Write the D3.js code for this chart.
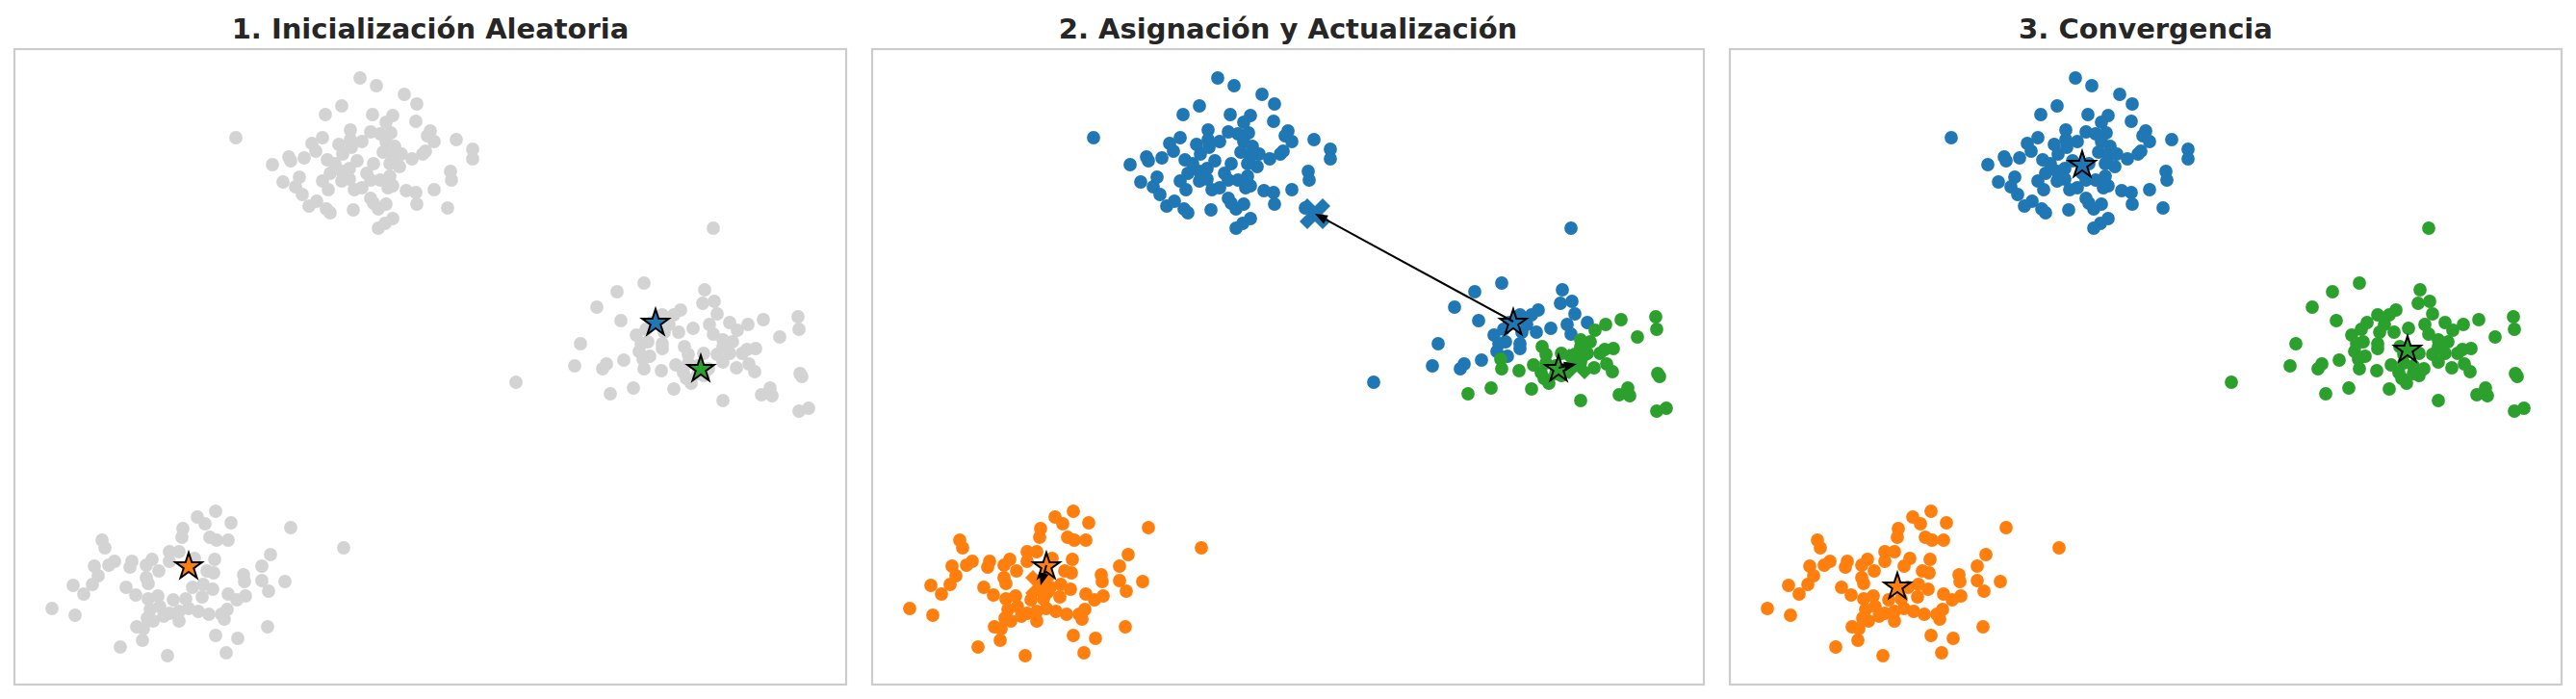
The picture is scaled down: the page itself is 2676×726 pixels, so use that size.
<!DOCTYPE html>
<html>
<head>
<meta charset="utf-8">
<script src="https://cdn.jsdelivr.net/npm/d3@7"></script>
<style>
  body { margin: 0; background: #fff; }
</style>
</head>
<body>
<div id="chart"></div>
<script>
const width = 2676;
const height = 726;

//-------data-------//
const titles = [
  "1. Inicialización Aleatoria",
  "2. Asignación y Actualización",
  "3. Convergencia",
];
const clusterNames = ["blue", "orange", "green"];
const clusterColors = ["#1f77b4", "#ff7f0e", "#2ca02c"];

const topBlob = [
  [35.9,62.7],[37.6,61.9],[40.5,61.0],[41.8,60.0],[34.0,59.8],[32.3,58.9],[37.2,58.9],[39.3,58.8],[41.7,58.2],[38.6,58.1],
  [23.0,56.5],[34.9,57.3],[37.0,57.1],[38.0,56.9],[39.1,57.0],[43.2,57.2],[42.9,56.7],[43.6,56.1],[45.9,56.3],[30.9,55.9],
  [32.0,56.5],[33.7,55.8],[34.9,56.3],[36.1,56.1],[38.6,56.1],[39.5,55.6],[47.6,55.3],[47.6,54.3],[26.8,53.7],[28.5,54.5],
  [28.7,54.1],[30.1,54.4],[31.3,55.1],[32.5,54.2],[34.1,54.8],[35.0,55.5],[38.3,55.0],[39.3,54.6],[40.2,54.8],[41.3,54.3],
  [42.4,54.8],[42.7,55.1],[40.0,53.5],[39.0,53.8],[45.3,53.0],[45.4,52.1],[27.9,51.9],[29.6,52.4],[29.2,51.4],[29.9,50.6],
  [32.0,52.0],[32.8,52.8],[34.0,53.0],[34.8,53.3],[34.8,52.2],[32.6,51.1],[36.1,51.3],[35.3,51.1],[38.0,52.1],[39.0,52.5],
  [39.3,51.5],[38.8,51.3],[40.7,51.0],[41.7,50.8],[43.6,51.1],[41.8,49.6],[30.6,49.4],[31.4,49.9],[32.4,49.1],[32.8,48.7],
  [35.2,49.0],[37.0,50.2],[37.3,49.7],[37.8,49.1],[38.6,49.6],[45.0,49.2],[39.3,48.1],[38.5,47.6],[37.8,47.1],[36.6,52.8],
  [35.6,54.1],[37.3,53.8],[33.3,53.8],[37.0,52.1],[34.0,52.0],
];

const rightBlob = [
  [72.6,47.1],[65.4,41.4],[62.6,40.5],[60.5,38.9],[63.0,37.5],[71.7,40.7],[71.5,39.3],[72.7,39.5],[73.0,38.2],[67.3,38.1],
  [69.2,38.6],[68.5,38.1],[66.2,37.3],[68.0,37.1],[70.5,36.7],[72.2,37.1],[72.6,36.1],[74.3,37.3],[75.1,36.5],[76.2,37.1],
  [77.8,37.6],[81.4,37.9],[81.5,36.6],[79.5,35.8],[64.6,36.0],[65.6,36.6],[67.5,36.3],[69.0,36.3],[58.8,35.1],[65.8,35.3],
  [67.3,35.1],[74.6,35.3],[73.6,35.5],[64.9,34.3],[66.0,33.8],[67.3,34.6],[69.6,34.8],[71.6,34.1],[73.0,34.0],[74.3,34.1],
  [75.6,34.1],[77.0,34.6],[76.1,34.5],[58.2,32.8],[61.5,33.0],[61.1,32.5],[63.3,33.4],[65.4,32.5],[67.2,32.3],[68.7,32.9],
  [70.0,33.1],[71.0,32.8],[72.1,32.5],[73.6,33.2],[75.0,32.6],[76.3,33.0],[76.9,32.2],[81.6,32.0],[81.8,31.7],[52.1,31.1],
  [64.3,30.5],[68.5,30.4],[69.8,31.5],[70.3,31.0],[71.6,31.8],[61.9,29.9],[73.6,29.2],[77.6,29.8],[78.5,30.5],[78.7,29.7],
  [81.5,28.1],[82.5,28.4],[70.0,34.0],[73.6,34.8],[69.5,32.1],[71.0,32.0],[65.1,35.1],[65.3,33.5],
];
// first assignment of the right blob (0 = blue, 2 = green)
const rightStep2 = [
  0,0,0,0,0,0,0,0,0,0, 0,0,0,0,0,0,0,0,2,2,
  2,2,2,2,0,0,0,0,0,0, 0,2,2,0,0,0,2,2,2,2,
  2,2,2,0,0,0,0,2,2,2, 2,2,2,2,2,2,2,2,2,0,
  2,2,2,2,2,2,2,2,2,2, 2,2,2,2,2,2,0,2,
];

const bottomBlob = [
  [20.9,17.7],[19.0,17.1],[19.8,16.4],[22.5,16.5],[28.7,16.0],[17.5,15.9],[17.4,15.0],[20.3,15.0],[21.0,14.7],[22.2,14.7],
  [9.1,14.7],[9.4,13.9],[34.2,13.9],[16.1,13.5],[17.1,13.5],[26.6,13.2],[18.7,12.8],[20.8,12.7],[14.3,12.7],[12.2,12.5],
  [10.4,12.5],[9.8,12.1],[8.3,12.0],[12.0,11.9],[13.7,12.1],[15.0,11.5],[16.1,12.5],[18.1,12.0],[20.0,11.5],[20.7,11.3],
  [25.7,12.0],[23.8,11.1],[23.9,10.4],[25.7,10.5],[28.1,10.4],[8.7,11.0],[8.1,10.1],[6.1,10.0],[7.2,9.1],[11.6,9.8],
  [12.6,9.0],[13.7,10.8],[13.9,10.2],[13.9,8.6],[14.9,8.9],[19.6,10.1],[20.6,9.6],[19.5,8.8],[22.2,9.1],[23.1,8.5],
  [24.0,8.9],[26.4,9.4],[3.9,7.6],[6.3,6.9],[14.1,7.5],[15.1,7.8],[16.1,7.1],[17.1,7.3],[18.1,7.6],[19.1,7.3],
  [20.2,7.0],[21.5,7.0],[22.1,7.5],[21.8,6.5],[14.4,6.3],[13.8,6.6],[17.1,6.3],[12.7,5.7],[13.4,5.5],[26.3,5.7],
  [20.9,4.8],[23.2,4.5],[13.3,4.3],[11.0,3.6],[15.9,2.7],[22.0,3.0],[17.8,8.6],[18.5,9.8],[16.5,8.5],[15.5,6.8],
];

// centroids: blue, orange, green
const initCentroids = [[66.6,37.4],[18.1,12.1],[71.3,32.6]];
const updatedCentroids = [[46.0,48.6],[17.5,10.0],[73.2,33.0]];
const finalCentroids = [[36.6,53.8],[17.4,10.0],[70.4,34.6]];

const xDomain = [0, 86.4];
const yDomain = [-0.3, 65.7];

//-------layout-------//
const panelW = 864;
const panelH = 660;
const gap = 27;
const marginLeft = 15;
const marginTop = 51;

const color = d3.scaleOrdinal().domain([0, 1, 2]).range(clusterColors);
const x = d3.scaleLinear().domain(xDomain).range([0, panelW]);
const y = d3.scaleLinear().domain(yDomain).range([panelH, 0]);

//-----clean data-------//
const points = [];
topBlob.forEach((p) => points.push({ x: p[0], y: p[1], step2: 0, final: 0 }));
rightBlob.forEach((p, i) =>
  points.push({ x: p[0], y: p[1], step2: rightStep2[i], final: 2 })
);
bottomBlob.forEach((p) => points.push({ x: p[0], y: p[1], step2: 1, final: 1 }));

const star = d3.symbol().type(d3.symbolStar).size(236);
// filled "X" marker, like matplotlib's 'X'
const xVerts = [
  [-0.25,-0.5],[0,-0.25],[0.25,-0.5],[0.5,-0.25],[0.25,0],[0.5,0.25],
  [0.25,0.5],[0,0.25],[-0.25,0.5],[-0.5,0.25],[-0.25,0],[-0.5,-0.25],
];
const xMarker = "M" + xVerts.map((v) => [v[0] * 32, v[1] * 32].join(",")).join("L") + "Z";

const svg = d3
  .select("#chart")
  .append("svg")
  .attr("width", width)
  .attr("height", height)
  .style("background", "#fff");

titles.forEach((title, i) => {
  const g = svg
    .append("g")
    .attr("transform", `translate(${marginLeft + i * (panelW + gap)},${marginTop})`);

  g.append("text")
    .attr("x", panelW / 2)
    .attr("y", -11)
    .attr("text-anchor", "middle")
    .attr("font-family", "DejaVu Sans")
    .attr("font-weight", "bold")
    .attr("font-size", 29)
    .attr("fill", "#262626")
    .text(title);

  //---points---//
  g.append("g")
    .selectAll("circle")
    .data(points)
    .join("circle")
    .attr("cx", (d) => x(d.x))
    .attr("cy", (d) => y(d.y))
    .attr("r", 6.9)
    .attr("fill", (d) =>
      i === 0 ? "#d3d3d3" : i === 1 ? color(d.step2) : color(d.final)
    );

  //---centroids---//
  const stars = i === 2 ? finalCentroids : initCentroids;

  if (i === 1) {
    g.append("g")
      .selectAll("path")
      .data(updatedCentroids)
      .join("path")
      .attr("d", xMarker)
      .attr("transform", (d) => `translate(${x(d[0])},${y(d[1])})`)
      .attr("fill", (d, k) => color(k));
  }

  g.append("g")
    .selectAll("path")
    .data(stars)
    .join("path")
    .attr("d", star)
    .attr("transform", (d) => `translate(${x(d[0])},${y(d[1]) + 1.5})`)
    .attr("fill", (d, k) => color(k))
    .attr("stroke", "#000")
    .attr("stroke-width", 2)
    .attr("stroke-linejoin", "miter");

  //---arrows old -> new---//
  if (i === 1) {
    const arrows = initCentroids.map((d, k) => ({
      x0: x(d[0]), y0: y(d[1]),
      x1: x(updatedCentroids[k][0]), y1: y(updatedCentroids[k][1]),
    }));
    const headL = 13;
    const headW = 5;
    const ag = g.append("g");
    arrows.forEach((a) => {
      const dx = a.x1 - a.x0;
      const dy = a.y1 - a.y0;
      const len = Math.hypot(dx, dy);
      const ux = dx / len;
      const uy = dy / len;
      const bx = a.x1 - ux * headL;
      const by = a.y1 - uy * headL;
      ag.append("line")
        .attr("x1", a.x0)
        .attr("y1", a.y0)
        .attr("x2", bx)
        .attr("y2", by)
        .attr("stroke", "#000")
        .attr("stroke-width", 2);
      ag.append("path")
        .attr(
          "d",
          `M${a.x1},${a.y1}L${bx - uy * headW},${by + ux * headW}L${bx + uy * headW},${by - ux * headW}Z`
        )
        .attr("fill", "#000");
    });
  }

  //---frame---//
  g.append("rect")
    .attr("x", 0)
    .attr("y", 0)
    .attr("width", panelW)
    .attr("height", panelH)
    .attr("fill", "none")
    .attr("stroke", "#cccccc")
    .attr("stroke-width", 2.2);
});
</script>
</body>
</html>
